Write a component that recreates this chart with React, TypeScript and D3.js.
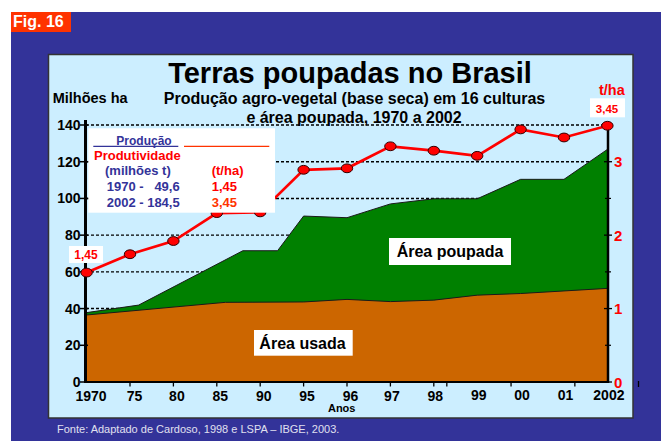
import React from "react";
import * as d3 from "d3";

// ---- data ----
const yearLabels = ["1970", "75", "80", "85", "90", "95", "96", "97", "98", "99", "00", "01", "2002"];
const yearNums = [1970, 1975, 1980, 1985, 1990, 1995, 1996, 1997, 1998, 1999, 2000, 2001, 2002];
const productivity = [1.49, 1.74, 1.92, 2.3, 2.31, 2.89, 2.91, 3.21, 3.15, 3.08, 3.44, 3.33, 3.49];
const totalYears = [1970, 1976, 1988, 1992, 1995, 1996, 1997, 1998, 1999, 2000, 2001, 2002];
const totalArea = [37.8, 41.9, 71.5, 71.5, 90.4, 89.5, 97, 99.8, 99.8, 110.4, 110.4, 126.7];
const usedYears = [1970, 1986, 1995, 1996, 1997, 1998, 1999, 2000, 2001, 2002];
const usedArea = [36.5, 43.4, 43.6, 45, 43.8, 44.6, 47.3, 48.2, 49.6, 51];
const leftTicks = [0, 20, 40, 60, 80, 100, 120, 140];
const gridTicks = [40, 60, 80, 100, 120, 140];
const rightTicks = [0, 1, 2, 3];
const rightMinor = [0.5, 1.5, 2.5];
const extraTickYears = [1998.3, 1999.78, 2001.25];
const legendRows = [
  { left: "1970 -   49,6", right: "1,45", rc: "#ff0000" },
  { left: "2002 - 184,5", right: "3,45", rc: "#ff3300" },
];

const FONT = "'Liberation Sans', Arial, Helvetica, sans-serif";

export default function App() {
  const W = 661, H = 441;
  const xp = d3.scalePoint<string>().domain(yearLabels).range([86.6, 607.4]);
  const x = d3.scaleLinear().domain(yearNums).range(yearLabels.map((l) => xp(l) as number));
  const yL = d3.scaleLinear().domain([0, 140]).range([382, 125]);
  const yR = d3.scaleLinear().domain([0, 3.5]).range([382, 125]);

  const totalPts = totalYears.map((yr, i) => [yr, totalArea[i]] as [number, number]);
  const usedPts = usedYears.map((yr, i) => [yr, usedArea[i]] as [number, number]);
  const area = d3.area<[number, number]>().x((d) => x(d[0])).y0(yL(0)).y1((d) => yL(d[1]));
  const top = d3.line<[number, number]>().x((d) => x(d[0])).y((d) => yL(d[1]));
  const prodPts = yearNums.map((yr, i) => [yr, productivity[i]] as [number, number]);
  const prodLine = d3.line<[number, number]>().x((d) => x(d[0])).y((d) => yR(d[1]));

  return (
    <svg width={W} height={H} style={{ position: "absolute", left: 0, top: 0 }} fontFamily={FONT}>
      <rect x={0} y={0} width={W} height={H} fill="#ffffff" />
      <rect x={11} y={12} width={W - 11} height={H - 12} fill="#333399" />
      <rect x={11} y={12} width={60} height={20} fill="#ff3300" />
      <text x={13} y={27} fill="#ffffff" fontSize={16} fontWeight="bold">Fig. 16</text>

      <rect x={48.5} y={54.5} width={584.5} height={363.5} fill="#cceeff" stroke="#333333" strokeWidth={1.5} />

      {/* titles */}
      <text x={350} y={83} textAnchor="middle" fontSize={29} fontWeight="bold" fill="#000">Terras poupadas no Brasil</text>
      <text x={354.5} y={104} textAnchor="middle" fontSize={16} fontWeight="bold" fill="#000">Produção agro-vegetal (base seca) em 16 culturas</text>
      <text x={354} y={122.5} textAnchor="middle" fontSize={16} fontWeight="bold" fill="#000">e área poupada, 1970 a 2002</text>
      <text x={52.7} y={103} fontSize={14.5} fontWeight="bold" fill="#000">Milhões ha</text>
      <text x={599} y={95} fontSize={14.5} fontWeight="bold" fill="#ff0000">t/ha</text>

      {/* gridlines */}
      {gridTicks.map((t) => (
        <line key={"g" + t} x1={86} x2={607} y1={yL(t)} y2={yL(t)} stroke="#000" strokeWidth={1.4} strokeDasharray="3,2" />
      ))}

      {/* areas */}
      <path d={area(totalPts) || ""} fill="#008000" />
      <path d={top(totalPts) || ""} fill="none" stroke="#1a1a1a" strokeWidth={1} />
      <path d={area(usedPts) || ""} fill="#cc6600" />
      <path d={top(usedPts) || ""} fill="none" stroke="#1a1a1a" strokeWidth={1} />

      {/* x axis */}
      <line x1={84} x2={609} y1={382} y2={382} stroke="#000" strokeWidth={2} />
      {yearLabels.slice(1, 9).map((l) => (
        <line key={"xt" + l} x1={xp(l)} x2={xp(l)} y1={382} y2={386.5} stroke="#000" strokeWidth={1.3} />
      ))}
      {extraTickYears.map((yr) => (
        <line key={"xe" + yr} x1={x(yr)} x2={x(yr)} y1={382} y2={386.5} stroke="#000" strokeWidth={1.3} />
      ))}
      <line x1={638.5} x2={638.5} y1={381} y2={387} stroke="#000" strokeWidth={1.3} />
      {yearLabels.map((l, i) => (
        <text key={"xl" + l} x={(xp(l) as number) + (i < 2 ? 4.5 : i < 7 ? 3.5 : 1.5)} y={i >= 9 ? 399.5 : 401}
          textAnchor="middle" fontSize={14} fontWeight="bold" fill="#000">{l}</text>
      ))}
      <text x={341.7} y={411.7} textAnchor="middle" fontSize={11} fontWeight="bold" fill="#000">Anos</text>

      {/* left axis */}
      <line x1={85.5} x2={85.5} y1={120} y2={383} stroke="#000" strokeWidth={3} />
      {leftTicks.map((t) => (
        <g key={"lt" + t}>
          <line x1={80} x2={88} y1={yL(t)} y2={yL(t)} stroke="#000" strokeWidth={1.5} />
          <text x={80.5} y={yL(t) + 5} textAnchor="end" fontSize={14} fontWeight="bold" fill="#000">{t}</text>
        </g>
      ))}

      {/* right axis */}
      <line x1={608} x2={608} y1={126} y2={383} stroke="#000" strokeWidth={2.5} />
      {rightTicks.map((t) => (
        <g key={"rt" + t}>
          <line x1={604} x2={612} y1={yR(t)} y2={yR(t)} stroke="#000" strokeWidth={1.3} />
          <text x={614} y={yR(t) + 5.5} fontSize={15} fontWeight="bold" fill="#ff0000">{t}</text>
        </g>
      ))}
      {rightMinor.map((t) => (
        <line key={"rm" + t} x1={605} x2={611} y1={yR(t)} y2={yR(t)} stroke="#000" strokeWidth={1.2} />
      ))}

      {/* productivity line */}
      <path d={prodLine(prodPts) || ""} fill="none" stroke="#ff0000" strokeWidth={2.7} />
      {prodPts.map((d, i) => (
        <ellipse key={"p" + i} cx={x(d[0])} cy={yR(d[1])} rx={5.7} ry={4.4} fill="#ff0000" stroke="#330000" strokeWidth={1} />
      ))}

      {/* legend box */}
      <rect x={88.3} y={128.3} width={186.7} height={84.4} fill="#ffffff" />
      <text x={144} y={145} textAnchor="middle" fontSize={12} fontWeight="bold" fill="#333399">Produção</text>
      <line x1={93.3} x2={178.3} y1={146.3} y2={146.3} stroke="#333399" strokeWidth={1.2} />
      <line x1={184} x2={269.3} y1={146.3} y2={146.3} stroke="#ff3300" strokeWidth={1.2} />
      <text x={94} y={160} fontSize={13} fontWeight="bold" fill="#ff0000">Produtividade</text>
      <text x={105} y={175} fontSize={13} fontWeight="bold" fill="#333399">(milhões t)</text>
      <text x={211.7} y={175} fontSize={13} fontWeight="bold" fill="#ff0000">(t/ha)</text>
      {legendRows.map((r, i) => (
        <g key={"lr" + i}>
          <text x={106.7} y={191 + i * 15.7} fontSize={13} fontWeight="bold" fill="#333399" style={{ whiteSpace: "pre" }}>{r.left}</text>
          <text x={211.7} y={191 + i * 15.7} fontSize={13} fontWeight="bold" fill={r.rc}>{r.right}</text>
        </g>
      ))}

      {/* value labels */}
      <rect x={69} y={246} width={34} height={17} fill="#ffffff" />
      <text x={86} y={258.5} textAnchor="middle" fontSize={12} fontWeight="bold" fill="#ff0000">1,45</text>
      <rect x={590} y={98.3} width={35} height={19} fill="#ffffff" />
      <text x={607} y={112.5} textAnchor="middle" fontSize={11.5} fontWeight="bold" fill="#ff0000">3,45</text>

      {/* area labels */}
      <rect x={389} y={238} width={122} height={27} fill="#ffffff" />
      <text x={450} y={256.7} textAnchor="middle" fontSize={16} fontWeight="bold" fill="#000">Área poupada</text>
      <rect x={254} y={330} width={98.7} height={25.7} fill="#ffffff" />
      <text x={302.5} y={349.3} textAnchor="middle" fontSize={16} fontWeight="bold" fill="#000">Área usada</text>

      <text x={57} y={433} fontSize={11} fill="#e0e0f0">Fonte: Adaptado de Cardoso, 1998 e LSPA – IBGE, 2003.</text>
    </svg>
  );
}
